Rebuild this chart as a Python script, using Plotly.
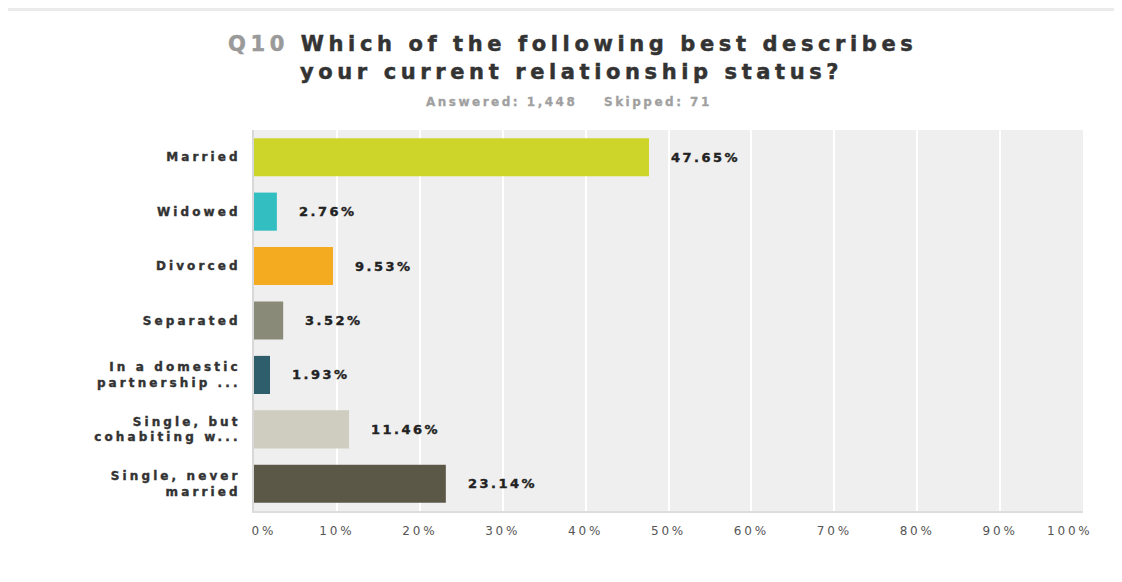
import plotly.graph_objects as go

categories = ["Married", "Widowed", "Divorced", "Separated",
              "In a domestic<br>partnership ...", "Single, but<br>cohabiting w...",
              "Single, never<br>married"]
values = [47.65, 2.76, 9.53, 3.52, 1.93, 11.46, 23.14]
colors = ["#cdd52a", "#33bec1", "#f5ab1f", "#8a8a78", "#2e5e6b", "#cfcdbf", "#5b5848"]
tick_vals = [0, 10, 20, 30, 40, 50, 60, 70, 80, 90, 100]
tick_text = ["0%", "10%", "20%", "30%", "40%", "50%", "60%", "70%", "80%", "90%", "100%"]

OFF = 8  # page body margin
W, H = 1122 - OFF, 582 - OFF
ML, MR, MT, MB = 254 - OFF, 39, 130 - OFF, 71
PW, PH = W - ML - MR, H - MT - MB

def px_x(x):  # screen px -> paper
    return (x - OFF - ML) / PW

def px_y(y):
    return (H - MB - (y - OFF)) / PH

FONT = "DejaVu Sans, Verdana, sans-serif"

def sp(text, ls, stroke=None, sw=0):
    style = "letter-spacing:%spx" % ls
    if stroke:
        style += ";stroke:%s;stroke-width:%spx" % (stroke, sw)
    parts = text.split("<br>")
    return "<br>".join("<span style='%s'>%s</span>" % (style, p) for p in parts)

NB = "&nbsp;"
tick_labels = []
for t in tick_text:
    if t == "0%":
        t = NB * 3 + t
    elif t == "100%":
        t = t + NB * 4
    tick_labels.append(sp(t, 2.8))

fig = go.Figure()
fig.add_trace(go.Bar(
    x=values, y=categories, orientation="h",
    marker=dict(color=colors, line=dict(width=0)),
    width=0.7, hoverinfo="skip",
))

annotations = []
for c, v in zip(categories, values):
    annotations.append(dict(
        x=v, y=c, xref="x", yref="y", text="<b>%s</b>" % sp("%.2f%%" % v, 2.5, "#222222", 0.4),
        showarrow=False, xanchor="left", xshift=20,
        font=dict(family=FONT, size=13, color="#222222"),
    ))

annotations += [
    dict(x=px_x(226), y=px_y(44), xref="paper", yref="paper", xanchor="left", yanchor="middle",
         text="<b>" + sp("Q10", 4.6, "#9a9a9a", 0.5).replace("style='", "style='fill:#9a9a9a;")
              + sp(" Which of the following best describes", 4.6, "#333333", 0.5) + "</b>",
         showarrow=False, font=dict(family=FONT, size=21, color="#333333")),
    dict(x=px_x(298), y=px_y(72), xref="paper", yref="paper", xanchor="left", yanchor="middle",
         text="<b>%s</b>" % sp("your current relationship status?", 4.6, "#333333", 0.5),
         showarrow=False, font=dict(family=FONT, size=21, color="#333333")),
    dict(x=px_x(424), y=px_y(102), xref="paper", yref="paper", xanchor="left", yanchor="middle",
         text="<b>%s</b>" % sp("Answered: 1,448&nbsp;&nbsp;&nbsp;&nbsp;Skipped: 71", 2.5, "#a0a0a0", 0.3),
         showarrow=False, font=dict(family=FONT, size=12, color="#a0a0a0")),
]

shapes = [
    dict(type="rect", xref="paper", yref="paper", x0=px_x(OFF), x1=px_x(1122), y0=px_y(OFF + 3), y1=px_y(OFF),
         fillcolor="#ebebeb", line=dict(width=0), layer="below"),
]

fig.update_layout(
    width=W, height=H,
    margin=dict(l=ML, r=MR, t=MT, b=MB, pad=0, autoexpand=False),
    paper_bgcolor="white", plot_bgcolor="#efefef",
    showlegend=False, bargap=0.3,
    annotations=annotations, shapes=shapes,
    xaxis=dict(range=[0, 100], tickvals=tick_vals, ticktext=tick_labels,
               showgrid=True, gridcolor="#ffffff", gridwidth=1.5, zeroline=False,
               showline=True, linecolor="#dddddd", linewidth=2, automargin=False,
               ticks="", ticklabelstandoff=8, ticklabeloverflow="allow",
               tickfont=dict(family=FONT, size=12, color="#555555"), fixedrange=True),
    yaxis=dict(autorange="reversed", showgrid=False, zeroline=False,
               showline=True, linecolor="#d8d8d8", linewidth=2, automargin=False,
               ticks="", ticklabelstandoff=9,
               tickfont=dict(family=FONT, size=12, color="#333333"), fixedrange=True),
    font=dict(family=FONT),
)
fig.update_yaxes(tickvals=categories,
                 ticktext=["<b>%s</b>" % sp(c, 3.1, "#333333", 0.4) for c in categories])

fig.write_html("out.html")
